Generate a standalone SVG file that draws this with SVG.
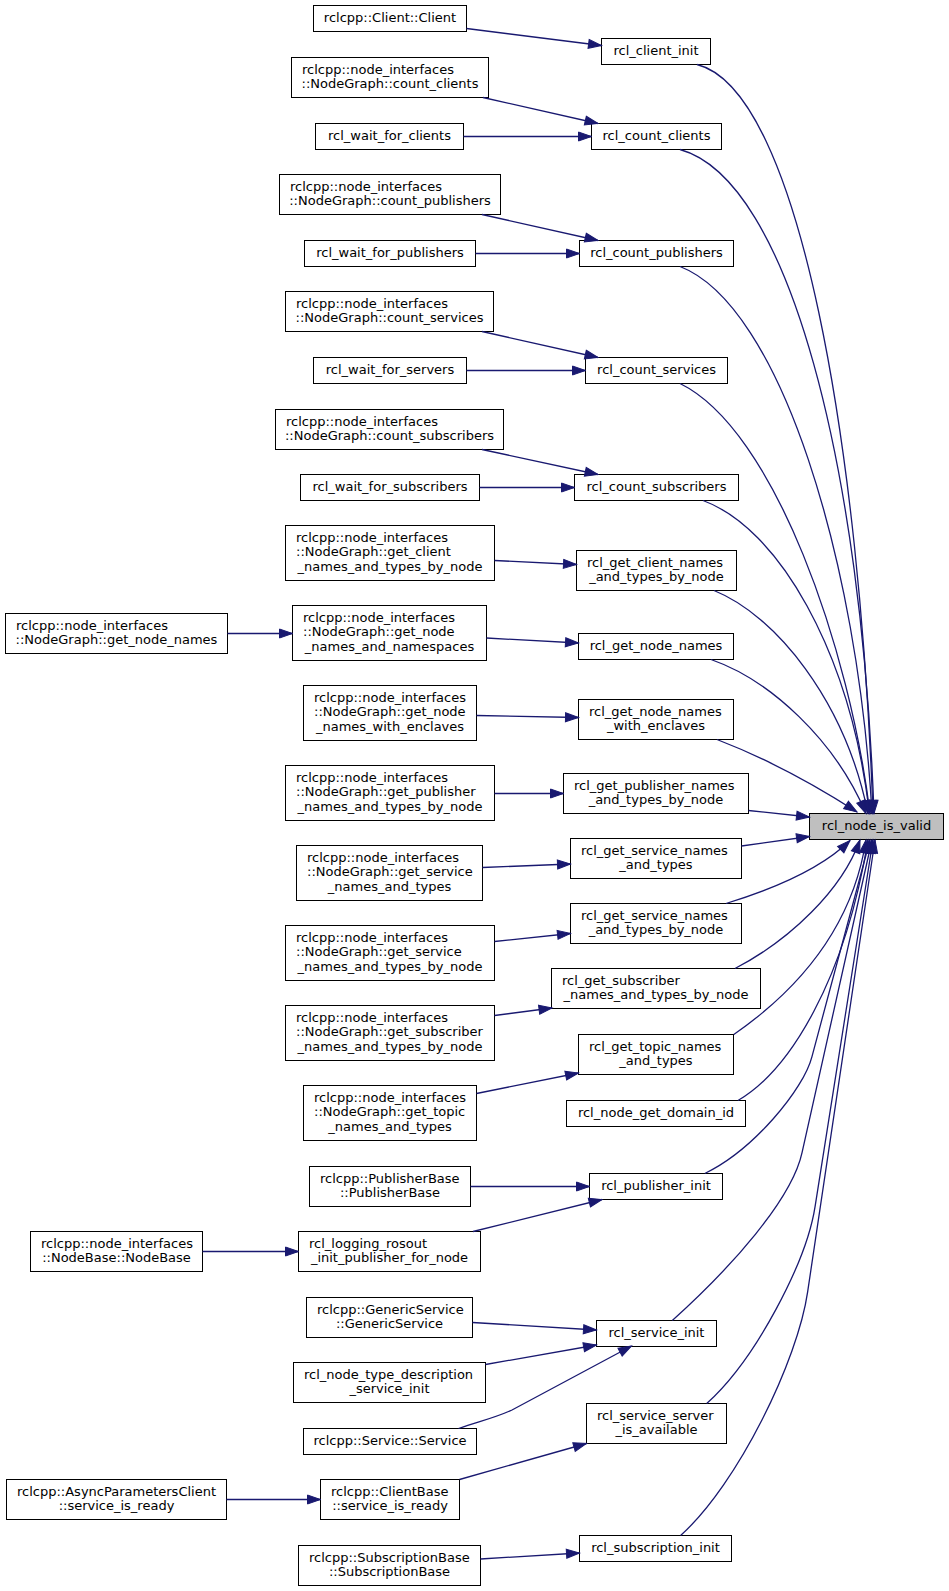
<svg xmlns="http://www.w3.org/2000/svg" width="949" height="1591" viewBox="0 0 949 1591">
<style>
.node rect{fill:#ffffff;stroke:#000000;stroke-width:1}
.focus rect{fill:#bfbfbf}
text{font-family:"DejaVu Sans","Liberation Sans",sans-serif;font-size:13px;fill:#000000}
.c{text-anchor:middle}
.edges path{fill:none;stroke:#191970;stroke-width:1.3;marker-end:url(#ah)}
</style>
<defs>
<marker id="ah" markerUnits="userSpaceOnUse" markerWidth="16" markerHeight="12" refX="13" refY="4.5" orient="auto" overflow="visible">
<path d="M0,0 L13,4.5 L0,9 Z" fill="#191970" stroke="#191970" stroke-width="1"/>
</marker>
</defs>
<rect width="949" height="1591" fill="#ffffff"/>
<g id="nodes">
<g id="n_client_client" class="node"><rect x="313.5" y="5.5" width="153" height="26"/><text class="c" x="390" y="21.5">rclcpp::Client::Client</text></g>
<g id="n_rcl_client_init" class="node"><rect x="601.5" y="38.5" width="109" height="26"/><text class="c" x="656" y="54.5">rcl_client_init</text></g>
<g id="n_ng_count_clients" class="node"><rect x="291.5" y="57.5" width="197" height="40"/><text x="302" y="73.5">rclcpp::node_interfaces</text><text class="c" x="390" y="88">::NodeGraph::count_clients</text></g>
<g id="n_wait_for_clients" class="node"><rect x="315.5" y="123.5" width="148" height="26"/><text class="c" x="389.5" y="139.5">rcl_wait_for_clients</text></g>
<g id="n_rcl_count_clients" class="node"><rect x="591.5" y="123.5" width="130" height="26"/><text class="c" x="656.5" y="139.5">rcl_count_clients</text></g>
<g id="n_ng_count_publishers" class="node"><rect x="279.5" y="174.5" width="221" height="40"/><text x="290" y="190.5">rclcpp::node_interfaces</text><text class="c" x="390" y="205">::NodeGraph::count_publishers</text></g>
<g id="n_wait_for_publishers" class="node"><rect x="304.5" y="240.5" width="171" height="26"/><text class="c" x="390" y="256.5">rcl_wait_for_publishers</text></g>
<g id="n_rcl_count_publishers" class="node"><rect x="579.5" y="240.5" width="154" height="26"/><text class="c" x="656.5" y="256.5">rcl_count_publishers</text></g>
<g id="n_ng_count_services" class="node"><rect x="285.5" y="291.5" width="208" height="40"/><text x="296" y="307.5">rclcpp::node_interfaces</text><text class="c" x="389.5" y="322">::NodeGraph::count_services</text></g>
<g id="n_wait_for_servers" class="node"><rect x="313.5" y="357.5" width="153" height="26"/><text class="c" x="390" y="373.5">rcl_wait_for_servers</text></g>
<g id="n_rcl_count_services" class="node"><rect x="585.5" y="357.5" width="142" height="26"/><text class="c" x="656.5" y="373.5">rcl_count_services</text></g>
<g id="n_ng_count_subscribers" class="node"><rect x="275.5" y="409.5" width="228" height="40"/><text x="286" y="425.5">rclcpp::node_interfaces</text><text class="c" x="389.5" y="440">::NodeGraph::count_subscribers</text></g>
<g id="n_wait_for_subscribers" class="node"><rect x="300.5" y="474.5" width="179" height="26"/><text class="c" x="390" y="490.5">rcl_wait_for_subscribers</text></g>
<g id="n_rcl_count_subscribers" class="node"><rect x="574.5" y="474.5" width="164" height="26"/><text class="c" x="656.5" y="490.5">rcl_count_subscribers</text></g>
<g id="n_ng_get_client" class="node"><rect x="285.5" y="525.5" width="209" height="55"/><text x="296" y="541.5">rclcpp::node_interfaces</text><text x="296" y="556">::NodeGraph::get_client</text><text class="c" x="390" y="570.5">_names_and_types_by_node</text></g>
<g id="n_rcl_get_client_names" class="node"><rect x="576.5" y="550.5" width="160" height="40"/><text x="587" y="566.5">rcl_get_client_names</text><text class="c" x="656.5" y="581">_and_types_by_node</text></g>
<g id="n_ng_get_node_names" class="node"><rect x="5.5" y="613.5" width="222" height="40"/><text x="16" y="629.5">rclcpp::node_interfaces</text><text class="c" x="116.5" y="644">::NodeGraph::get_node_names</text></g>
<g id="n_ng_get_node_ns" class="node"><rect x="292.5" y="605.5" width="194" height="55"/><text x="303" y="621.5">rclcpp::node_interfaces</text><text x="303" y="636">::NodeGraph::get_node</text><text class="c" x="389.5" y="650.5">_names_and_namespaces</text></g>
<g id="n_rcl_get_node_names" class="node"><rect x="578.5" y="633.5" width="155" height="26"/><text class="c" x="656" y="649.5">rcl_get_node_names</text></g>
<g id="n_ng_get_node_enclaves" class="node"><rect x="303.5" y="685.5" width="173" height="55"/><text x="314" y="701.5">rclcpp::node_interfaces</text><text x="314" y="716">::NodeGraph::get_node</text><text class="c" x="390" y="730.5">_names_with_enclaves</text></g>
<g id="n_rcl_get_node_enclaves" class="node"><rect x="578.5" y="699.5" width="155" height="40"/><text x="589" y="715.5">rcl_get_node_names</text><text class="c" x="656" y="730">_with_enclaves</text></g>
<g id="n_ng_get_publisher" class="node"><rect x="285.5" y="765.5" width="209" height="55"/><text x="296" y="781.5">rclcpp::node_interfaces</text><text x="296" y="796">::NodeGraph::get_publisher</text><text class="c" x="390" y="810.5">_names_and_types_by_node</text></g>
<g id="n_rcl_get_publisher" class="node"><rect x="563.5" y="773.5" width="185" height="40"/><text x="574" y="789.5">rcl_get_publisher_names</text><text class="c" x="656" y="804">_and_types_by_node</text></g>
<g id="n_rcl_node_is_valid" class="node focus"><rect x="809.5" y="813.5" width="134" height="26"/><text class="c" x="876.5" y="829.5">rcl_node_is_valid</text></g>
<g id="n_ng_get_service" class="node"><rect x="296.5" y="845.5" width="186" height="55"/><text x="307" y="861.5">rclcpp::node_interfaces</text><text x="307" y="876">::NodeGraph::get_service</text><text class="c" x="389.5" y="890.5">_names_and_types</text></g>
<g id="n_rcl_get_service" class="node"><rect x="570.5" y="838.5" width="171" height="40"/><text x="581" y="854.5">rcl_get_service_names</text><text class="c" x="656" y="869">_and_types</text></g>
<g id="n_ng_get_service_by_node" class="node"><rect x="285.5" y="925.5" width="209" height="55"/><text x="296" y="941.5">rclcpp::node_interfaces</text><text x="296" y="956">::NodeGraph::get_service</text><text class="c" x="390" y="970.5">_names_and_types_by_node</text></g>
<g id="n_rcl_get_service_by_node" class="node"><rect x="570.5" y="903.5" width="171" height="40"/><text x="581" y="919.5">rcl_get_service_names</text><text class="c" x="656" y="934">_and_types_by_node</text></g>
<g id="n_rcl_get_subscriber" class="node"><rect x="551.5" y="968.5" width="209" height="40"/><text x="562" y="984.5">rcl_get_subscriber</text><text class="c" x="656" y="999">_names_and_types_by_node</text></g>
<g id="n_ng_get_subscriber" class="node"><rect x="285.5" y="1005.5" width="209" height="55"/><text x="296" y="1021.5">rclcpp::node_interfaces</text><text x="296" y="1036">::NodeGraph::get_subscriber</text><text class="c" x="390" y="1050.5">_names_and_types_by_node</text></g>
<g id="n_rcl_get_topic" class="node"><rect x="578.5" y="1034.5" width="155" height="40"/><text x="589" y="1050.5">rcl_get_topic_names</text><text class="c" x="656" y="1065">_and_types</text></g>
<g id="n_ng_get_topic" class="node"><rect x="303.5" y="1085.5" width="173" height="55"/><text x="314" y="1101.5">rclcpp::node_interfaces</text><text x="314" y="1116">::NodeGraph::get_topic</text><text class="c" x="390" y="1130.5">_names_and_types</text></g>
<g id="n_rcl_node_get_domain_id" class="node"><rect x="566.5" y="1100.5" width="179" height="26"/><text class="c" x="656" y="1116.5">rcl_node_get_domain_id</text></g>
<g id="n_publisherbase" class="node"><rect x="309.5" y="1166.5" width="161" height="40"/><text x="320" y="1182.5">rclcpp::PublisherBase</text><text class="c" x="390" y="1197">::PublisherBase</text></g>
<g id="n_rcl_publisher_init" class="node"><rect x="589.5" y="1173.5" width="133" height="26"/><text class="c" x="656" y="1189.5">rcl_publisher_init</text></g>
<g id="n_nodebase" class="node"><rect x="30.5" y="1231.5" width="172" height="40"/><text x="41" y="1247.5">rclcpp::node_interfaces</text><text class="c" x="116.5" y="1262">::NodeBase::NodeBase</text></g>
<g id="n_rcl_logging_rosout" class="node"><rect x="298.5" y="1231.5" width="182" height="40"/><text x="309" y="1247.5">rcl_logging_rosout</text><text class="c" x="389.5" y="1262">_init_publisher_for_node</text></g>
<g id="n_genericservice" class="node"><rect x="306.5" y="1297.5" width="166" height="40"/><text x="317" y="1313.5">rclcpp::GenericService</text><text class="c" x="389.5" y="1328">::GenericService</text></g>
<g id="n_rcl_service_init" class="node"><rect x="596.5" y="1320.5" width="120" height="26"/><text class="c" x="656.5" y="1336.5">rcl_service_init</text></g>
<g id="n_rcl_node_type_desc" class="node"><rect x="293.5" y="1362.5" width="192" height="40"/><text x="304" y="1378.5">rcl_node_type_description</text><text class="c" x="389.5" y="1393">_service_init</text></g>
<g id="n_service_service" class="node"><rect x="303.5" y="1428.5" width="173" height="26"/><text class="c" x="390" y="1444.5">rclcpp::Service::Service</text></g>
<g id="n_rcl_service_server" class="node"><rect x="586.5" y="1403.5" width="140" height="40"/><text x="597" y="1419.5">rcl_service_server</text><text class="c" x="656.5" y="1434">_is_available</text></g>
<g id="n_async_params" class="node"><rect x="6.5" y="1479.5" width="220" height="40"/><text x="17" y="1495.5">rclcpp::AsyncParametersClient</text><text class="c" x="116.5" y="1510">::service_is_ready</text></g>
<g id="n_clientbase" class="node"><rect x="320.5" y="1479.5" width="139" height="40"/><text x="331" y="1495.5">rclcpp::ClientBase</text><text class="c" x="390" y="1510">::service_is_ready</text></g>
<g id="n_rcl_subscription_init" class="node"><rect x="579.5" y="1535.5" width="152" height="26"/><text class="c" x="655.5" y="1551.5">rcl_subscription_init</text></g>
<g id="n_subscriptionbase" class="node"><rect x="298.5" y="1545.5" width="182" height="40"/><text x="309" y="1561.5">rclcpp::SubscriptionBase</text><text class="c" x="389.5" y="1576">::SubscriptionBase</text></g>
</g>
<g id="edges" class="edges">
<path d="M466.5,28.5 L601.5,45.5"/>
<path d="M483,97.5 L598,123.5"/>
<path d="M463.5,136.5 L591.5,136.5"/>
<path d="M482,214.5 L598,240.5"/>
<path d="M475.5,253.5 L579.5,253.5"/>
<path d="M482,331.5 L598,357.5"/>
<path d="M466.5,370.5 L585.5,370.5"/>
<path d="M482,449.5 L598,474.5"/>
<path d="M479.5,487.5 L574.5,487.5"/>
<path d="M494.5,560.5 L576.5,564.5"/>
<path d="M227.5,633.5 L292.5,633.5"/>
<path d="M486.5,638 L578.5,643"/>
<path d="M476.5,715.5 L578.5,717.5"/>
<path d="M494.5,793.5 L563.5,793.5"/>
<path d="M482.5,867.5 L570.5,864"/>
<path d="M494.5,941.5 L570.5,933.5"/>
<path d="M494.5,1015.5 L552,1008"/>
<path d="M476.5,1093.5 L578.5,1073"/>
<path d="M470.5,1186.5 L589.5,1186.5"/>
<path d="M473,1231.5 L602,1199.5"/>
<path d="M202.5,1251.5 L298.5,1251.5"/>
<path d="M472.5,1322.5 L596.5,1330"/>
<path d="M485.5,1364.5 L596.5,1345"/>
<path d="M458.5,1428.5 C480,1421 495,1418 512,1410 L631.5,1346"/>
<path d="M459.5,1479.5 L586.5,1443.5"/>
<path d="M226.5,1499.5 L320.5,1499.5"/>
<path d="M480.5,1559 L579.5,1553"/>
<path d="M697,64.5 C800,90 860,450 873,813.5"/>
<path d="M680,149.5 C790,180 862,470 874,813.5"/>
<path d="M680,266.5 C780,305 858,560 872,813.5"/>
<path d="M680,383.5 C775,430 850,650 870,813.5"/>
<path d="M703,500.5 C778,528 850,650 869.5,813.5"/>
<path d="M714,590.5 C775,615 845,700 868,813.5"/>
<path d="M711,659.5 C770,680 835,740 866,813.5"/>
<path d="M717,739.5 C765,758 815,785 857,812"/>
<path d="M748.5,810.5 L809.5,817"/>
<path d="M741.5,846 L809.5,836.5"/>
<path d="M726,903.5 C770,890 820,870 850,840.5"/>
<path d="M735,968.5 C790,940 842,890 860,840"/>
<path d="M733.8,1034.5 C795,992 852,930 866,840"/>
<path d="M738,1100.5 C790,1070 845,980 868,840"/>
<path d="M704.8,1173.5 C753.5,1150 803.6,1089.3 811.9,1056.8 L870,840"/>
<path d="M672.3,1320.5 C731.3,1267.4 792.1,1199.1 802.1,1152.3 L872,840"/>
<path d="M706.7,1403.5 C756,1359.1 806.7,1261.2 815.1,1206.3 L873,840"/>
<path d="M680.6,1535.5 C738.3,1483.6 797.8,1359.9 807.6,1292.1 L875,840"/>
</g>
</svg>
